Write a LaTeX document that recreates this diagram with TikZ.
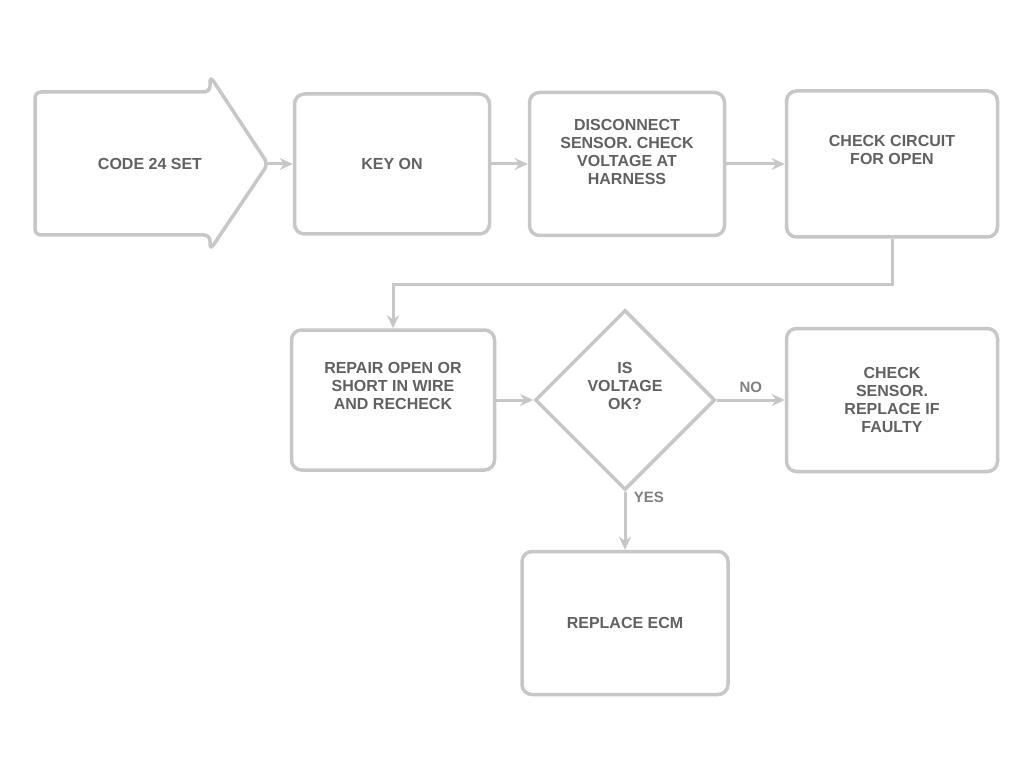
\documentclass[tikz,border=0pt]{standalone}
\usepackage{fontspec}
\setmainfont{Liberation Sans}
\usetikzlibrary{shapes.geometric,arrows.meta}
\begin{document}
\begin{tikzpicture}[x=1pt,y=-1pt,
  stepbox/.style={draw=black!22,line width=3.5pt,rounded corners=10pt,fill=white},
  boxtext/.style={text=black!62,font=\bfseries\fontsize{16}{18}\selectfont,align=center},
  link/.style={draw=black!22,line width=3pt,-{Stealth[length=13pt,width=12pt]}},
  lab/.style={text=black!50,font=\bfseries\fontsize{15}{17}\selectfont}]
\useasboundingbox (0,0) rectangle (1034,770);
\fill[white] (0,0) rectangle (1034,770);
% start arrow
\draw[stepbox,rounded corners=6pt] (35,92) -- (210,92) -- (210,76) -- (268,164) -- (210,250) -- (210,235) -- (35,235) -- cycle;
\node[boxtext] (start) at (150,164) {CODE 24 SET};
\coordinate (tip) at (268,164);
% row 1
\node[stepbox,minimum width=195pt,minimum height=140pt] (b2) at (392,164) {};
\node[boxtext] at (b2) {KEY ON};
\node[stepbox,minimum width=195pt,minimum height=143pt] (b3) at (627,164) {};
\node[boxtext] at ([yshift=12pt]b3.center) {DISCONNECT\\SENSOR. CHECK\\VOLTAGE AT\\HARNESS};
\node[stepbox,minimum width=211pt,minimum height=146pt] (b4) at (892,164) {};
\node[boxtext] at ([yshift=14pt]b4.center) {CHECK CIRCUIT\\FOR OPEN};
% row 2
\node[stepbox,minimum width=203pt,minimum height=140pt] (b5) at (393,400) {};
\node[boxtext] at ([yshift=14pt]b5.center) {REPAIR OPEN OR\\SHORT IN WIRE\\AND RECHECK};
\node[draw=black!22,line width=3.5pt,diamond,aspect=1,minimum width=180pt,minimum height=180pt,inner sep=0pt,fill=white] (d) at (625,400) {};
\node[boxtext] at ([yshift=14pt]d.center) {IS\\VOLTAGE\\OK?};
\node[stepbox,minimum width=211pt,minimum height=143pt] (b6) at (892,400) {};
\node[boxtext] at (b6) {CHECK\\SENSOR.\\REPLACE IF\\FAULTY};
\node[stepbox,minimum width=206pt,minimum height=143pt] (b7) at (625,623) {};
\node[boxtext] at (b7) {REPLACE ECM};
% connectors
\draw[link] (tip) -- (b2.west);
\draw[link] (b2.east) -- (b3.west);
\draw[link] (b3.east) -- (b4.west);
\coordinate (c1) at (892,285);
\coordinate (c2) at (393,285);
\draw[link] (b4.south) -- (c1) -- (c2) -- (b5.north);
\draw[link] (b5.east) -- (d.west);
\draw[link] (d.east) -- node[lab,above=3pt] (no) {NO} (b6.west);
\draw[link] (d.south) -- node[lab,right=4pt,pos=0.1] (yes) {YES} (b7.north);
\end{tikzpicture}
\end{document}
